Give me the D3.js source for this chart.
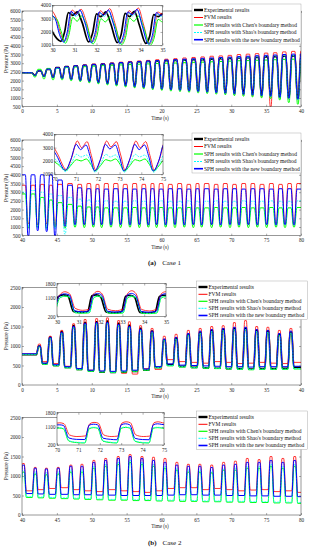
<!DOCTYPE html>
<html>
<head>
<meta charset="utf-8">
<script src="https://cdn.jsdelivr.net/npm/d3@7"></script>
<style>
  body { margin: 0; background: #fff; }
  svg { display: block; font-family: "Liberation Serif", "DejaVu Serif", serif; }
</style>
</head>
<body>
<svg id="chart" width="313" height="550"></svg>
<script>
// legend entries, same order in every panel
const seriesNames = ['Experimental results', 'FVM results', "SPH results with Chen's boundary method",
                     "SPH results with Shao's boundary method", 'SPH results with the new boundary method'];
const seriesColors = ['#000000', '#ff0000', '#00ff00', '#00ffff', '#0000ff'];

// ---- Case 1, 0-40 s : times of the sharp troughs, trough (lo) and crest (hi) after each
const c1aT = [1.85, 3.15, 4.45, 5.75, 7.05, 8.35, 9.65, 10.95, 12.25, 13.55, 14.85, 16.15, 17.45, 18.75, 20.05,
              21.35, 22.65, 23.95, 25.25, 26.55, 27.85, 29.15, 30.45, 31.75, 33.05, 34.35, 35.65, 36.95, 38.25, 39.55];
const c1aStart = [2450, 2450, 2450, 2450, 2450];
const c1aExpLo = [2300, 2250, 2200, 2150, 2080, 2020, 1960, 1900, 1840, 1780, 1720, 1670, 1620, 1570, 1530, 1500, 1470, 1440, 1410, 1390, 1360, 1340, 1300, 1260, 1220, 1180, 1140, 1100, 1050, 1000];
const c1aExpHi = [2550, 2650, 2750, 2800, 2850, 2880, 2920, 2950, 2980, 3020, 3050, 3080, 3100, 3120, 3150, 3160, 3180, 3200, 3210, 3230, 3260, 3280, 3300, 3320, 3340, 3360, 3380, 3400, 3420, 3440];
const c1aFvmLo = [2300, 2250, 2200, 2150, 2080, 2020, 1960, 1900, 1840, 1780, 1720, 1660, 1600, 1560, 1520, 1480, 1440, 1400, 1370, 1330, 1300, 1260, 1220, 1180, 1140, 1100, 500, 1000, 950, 900];
const c1aFvmHi = [2550, 2650, 2750, 2800, 2850, 2900, 2950, 2980, 3020, 3060, 3100, 3130, 3160, 3200, 3230, 3260, 3300, 3330, 3360, 3400, 3420, 3450, 3500, 3520, 3550, 3580, 3600, 3650, 3680, 3700];
const c1aChenLo = [2200, 2100, 2050, 2050, 2000, 1950, 1880, 1820, 1760, 1700, 1640, 1590, 1540, 1490, 1450, 1410, 1380, 1340, 1300, 1270, 1230, 1200, 1150, 1110, 1070, 1020, 980, 900, 750, 650];
const c1aChenHi = [2650, 2700, 2700, 2750, 2780, 2800, 2830, 2860, 2880, 2900, 2920, 2940, 2960, 2980, 3000, 3010, 3030, 3050, 3060, 3080, 3100, 3120, 3140, 3150, 3170, 3180, 3200, 3220, 3230, 3250];
const c1aShaoLo = [2280, 2230, 2180, 2120, 2060, 2000, 1940, 1880, 1820, 1760, 1700, 1650, 1600, 1550, 1510, 1470, 1440, 1400, 1370, 1340, 1300, 1270, 1230, 1200, 1160, 1120, 1080, 1020, 950, 880];
const c1aShaoHi = [2550, 2650, 2700, 2780, 2830, 2870, 2900, 2940, 2970, 3000, 3040, 3060, 3090, 3110, 3140, 3160, 3180, 3200, 3220, 3240, 3270, 3290, 3320, 3340, 3360, 3380, 3400, 3420, 3440, 3450];
const c1aNewLo = [2300, 2240, 2190, 2140, 2080, 2020, 1960, 1900, 1840, 1780, 1720, 1670, 1620, 1570, 1530, 1490, 1460, 1420, 1390, 1360, 1320, 1290, 1250, 1220, 1180, 1150, 1110, 1050, 1000, 950];
const c1aNewHi = [2560, 2660, 2740, 2800, 2850, 2890, 2930, 2960, 3000, 3040, 3070, 3100, 3130, 3150, 3180, 3200, 3230, 3250, 3280, 3300, 3330, 3350, 3380, 3400, 3430, 3450, 3470, 3500, 3520, 3550];

// ---- Case 1, 40-80 s (no experimental curve)
const c1bT = [40.91, 42.25, 43.54, 44.74, 46.16, 47.6, 48.93, 50.23, 51.42, 52.76, 54.14, 55.48, 56.82, 58.11, 59.3,
              60.6, 61.93, 63.27, 64.56, 65.76, 67.19, 68.48, 69.82, 71.11, 72.45, 73.74, 75.08, 76.42, 77.71, 79.0];
const c1bStart = [null, 3400, 2900, 3000, 4000];
const c1bFvmLo = [1200, 1150, 1200, 1100, 1200, 1180, 1200, 1180, 1200, 1180, 1200, 1180, 1200, 1180, 1200, 1180, 1200, 1180, 1200, 1180, 1200, 1180, 1200, 1180, 1200, 1180, 1200, 1180, 1200, 1180];
const c1bFvmHi = [3400, 3450, 3400, 3450, 3500, 3450, 3500, 3450, 3500, 3500, 3450, 3500, 3450, 3500, 3500, 3450, 3500, 3450, 3500, 3500, 3450, 3500, 3450, 3500, 3500, 3450, 3500, 3450, 3500, 3500];
const c1bChenLo = [950, 1000, 950, 1000, 950, 1000, 980, 1000, 980, 1000, 980, 1000, 980, 1000, 980, 1000, 980, 1000, 980, 1000, 980, 1000, 980, 1000, 980, 1000, 980, 1000, 980, 1000];
const c1bChenHi = [2900, 2700, 2550, 2400, 2300, 2200, 2150, 2150, 2100, 2100, 2100, 2120, 2100, 2100, 2120, 2100, 2100, 2120, 2100, 2100, 2120, 2100, 2100, 2120, 2100, 2100, 2120, 2100, 2100, 2120];
const c1bShaoLo = [1000, 950, 900, 900, 600, 1100, 1150, 1120, 1150, 1120, 1150, 1120, 1150, 1120, 1150, 1120, 1150, 1120, 1150, 1120, 1150, 1120, 1150, 1120, 1150, 1120, 1150, 1120, 1150, 1120];
const c1bShaoHi = [3100, 3000, 2900, 2800, 2700, 2600, 2550, 2500, 2500, 2480, 2480, 2500, 2480, 2480, 2500, 2480, 2480, 2500, 2480, 2480, 2500, 2480, 2480, 2500, 2480, 2480, 2500, 2480, 2480, 2500];
const c1bNewLo = [500, 800, 750, 500, 1050, 1150, 1150, 1130, 1150, 1130, 1150, 1130, 1150, 1130, 1150, 1130, 1150, 1130, 1150, 1130, 1150, 1130, 1150, 1130, 1150, 1130, 1150, 1130, 1150, 1130];
const c1bNewHi = [4000, 4000, 4000, 3700, 3400, 3250, 3200, 3200, 3180, 3200, 3200, 3180, 3200, 3200, 3180, 3200, 3200, 3180, 3200, 3200, 3180, 3200, 3200, 3180, 3200, 3200, 3180, 3200, 3200, 3180];

// ---- Case 2, 0-40 s : times of the pulses, pulse top (hi) and floor after each (lo)
const c2aT = [2.5, 4.05, 5.7, 7.4, 9.05, 10.7, 12.25, 13.85, 15.4, 17.0, 18.65, 20.4, 22.1, 23.85, 25.55, 27.2, 28.85, 30.45, 32.05, 33.65, 35.25, 36.9, 38.55];
const c2aStart = [780, 800, 780, 790, 800];
const c2aExpHi = [1000, 1230, 1370, 1520, 1600, 1620, 1640, 1580, 1530, 1450, 1380, 1150, 1200, 1300, 1350, 1400, 1430, 1450, 1450, 1400, 1380, 1300, 1350];
const c2aExpLo = [550, 500, 450, 400, 360, 330, 320, 330, 350, 380, 450, 520, 480, 450, 440, 430, 420, 420, 410, 420, 420, 430, 450];
const c2aFvmHi = [1050, 1250, 1400, 1570, 1680, 1700, 1720, 1650, 1620, 1520, 1450, 1250, 1300, 1400, 1450, 1500, 1520, 1600, 1650, 1500, 1480, 1400, 1450];
const c2aFvmLo = [600, 550, 480, 420, 380, 350, 330, 300, 280, 420, 400, 650, 600, 580, 560, 600, 580, 550, 560, 580, 560, 550, 580];
const c2aChenHi = [980, 1190, 1320, 1460, 1540, 1560, 1570, 1510, 1470, 1390, 1330, 1140, 1170, 1270, 1320, 1360, 1390, 1410, 1410, 1360, 1340, 1270, 1320];
const c2aChenLo = [530, 490, 440, 390, 350, 330, 320, 330, 350, 380, 440, 490, 460, 440, 430, 420, 410, 400, 390, 400, 400, 400, 410];
const c2aShaoHi = [980, 1200, 1330, 1470, 1550, 1570, 1580, 1520, 1480, 1400, 1340, 1150, 1180, 1280, 1330, 1370, 1400, 1420, 1420, 1370, 1350, 1280, 1330];
const c2aShaoLo = [540, 500, 450, 400, 360, 340, 330, 340, 360, 390, 450, 500, 470, 450, 440, 430, 420, 410, 400, 410, 410, 410, 420];
const c2aNewHi = [1000, 1220, 1350, 1500, 1580, 1600, 1600, 1550, 1500, 1430, 1380, 1180, 1220, 1320, 1380, 1420, 1450, 1480, 1480, 1420, 1400, 1320, 1380];
const c2aNewLo = [560, 520, 470, 420, 380, 360, 350, 360, 380, 410, 470, 540, 510, 500, 490, 480, 470, 470, 460, 470, 470, 470, 480];

// ---- Case 2, 40-80 s (no experimental curve)
const c2bT = [40.2, 41.9, 43.5, 45.2, 47.0, 48.6, 50.3, 52.0, 53.8, 55.5, 57.2, 58.85, 60.5, 62.2, 63.85, 65.5, 67.2, 68.9, 70.6, 72.3, 74.0, 75.7, 77.4, 79.1];
const c2bStart = [null, 700, 450, 470, 550];
const c2bFvmHi = [1320, 1220, 1200, 1220, 1280, 1300, 1400, 1450, 1500, 1550, 1500, 1480, 1450, 1350, 1300, 1300, 1280, 1350, 1380, 1450, 1420, 1500, 1450, 1500];
const c2bFvmLo = [620, 650, 680, 700, 650, 620, 600, 650, 620, 600, 580, 620, 680, 700, 700, 650, 680, 650, 620, 640, 650, 600, 620, 580];
const c2bChenHi = [1100, 1050, 1030, 1050, 1100, 1100, 1200, 1250, 1300, 1350, 1300, 1250, 1200, 1150, 1100, 1100, 1080, 1150, 1150, 1200, 1200, 1250, 1200, 1250];
const c2bChenLo = [450, 440, 430, 420, 410, 400, 390, 380, 380, 370, 370, 360, 360, 350, 350, 340, 340, 330, 330, 320, 320, 310, 310, 300];
const c2bShaoHi = [1150, 1100, 1080, 1100, 1150, 1150, 1250, 1300, 1350, 1400, 1350, 1300, 1250, 1180, 1150, 1150, 1120, 1180, 1200, 1250, 1250, 1300, 1250, 1300];
const c2bShaoLo = [470, 460, 450, 440, 430, 420, 410, 400, 400, 390, 390, 380, 380, 380, 370, 360, 360, 350, 350, 340, 340, 330, 330, 320];
const c2bNewHi = [1280, 1200, 1180, 1200, 1250, 1250, 1350, 1400, 1450, 1500, 1450, 1400, 1350, 1280, 1250, 1250, 1220, 1280, 1300, 1350, 1350, 1400, 1350, 1400];
const c2bNewLo = [550, 540, 530, 530, 520, 520, 510, 510, 500, 500, 500, 500, 510, 520, 520, 510, 510, 500, 500, 490, 490, 480, 480, 470];

// ---- zoomed insets: sample times plus a time lag per series
const in1T = [29.8, 30.0, 30.2, 30.38, 30.55, 30.72, 30.92, 31.12, 31.35, 31.64, 31.82, 32.0, 32.2, 32.42, 32.65, 32.94, 33.12, 33.3, 33.5, 33.72, 33.95, 34.24, 34.42, 34.6, 34.8, 35.0];
const in1Lag = [0, 0.18, 0.2, 0.15, 0.12];
const in1Exp = [2700, 2000, 1500, 1300, 2000, 3450, 3250, 3500, 2700, 1250, 1900, 3350, 3150, 3500, 2600, 1200, 1800, 3400, 3150, 3550, 2500, 1150, 1700, 3300, 3150, 3400];
const in1Fvm = [3600, 3000, 1800, 1300, 2100, 3650, 3350, 3700, 2800, 1250, 2000, 3600, 3300, 3750, 2700, 1150, 1900, 3600, 3350, 3800, 2600, 1100, 1800, 3500, 3350, 3600];
const in1Chen = [3150, 2950, 2000, 1150, 1800, 3100, 2800, 3200, 2500, 1100, 1700, 3000, 2750, 3150, 2400, 1050, 1600, 3050, 2800, 3200, 2300, 1000, 1550, 2950, 2750, 3100];
const in1Shao = [3250, 2900, 1750, 1200, 1950, 3450, 3150, 3550, 2650, 1150, 1900, 3400, 3150, 3550, 2550, 1100, 1800, 3400, 3200, 3600, 2450, 1050, 1700, 3350, 3150, 3450];
const in1New = [3300, 3000, 1800, 1250, 2000, 3550, 3250, 3650, 2700, 1200, 1950, 3500, 3250, 3650, 2600, 1150, 1850, 3500, 3300, 3700, 2500, 1100, 1750, 3450, 3250, 3550];

const in2T = [69.8, 70.1, 70.5, 70.75, 71.0, 71.2, 71.45, 71.65, 71.85, 72.1, 72.35, 72.55, 72.8, 73.0, 73.2, 73.45, 73.7, 73.9, 74.15, 74.35, 74.55, 74.8, 75.05, 75.25];
const in2Lag = [0, 0.05, 0.02, 0.02, 0];
const in2Fvm = [3400, 2500, 1350, 2300, 3500, 3000, 3450, 2400, 1300, 2250, 3500, 3050, 3450, 2450, 1300, 2250, 3500, 3000, 3450, 2400, 1300, 2200, 3500, 3050];
const in2Chen = [2100, 1800, 1300, 1700, 2100, 2000, 2150, 1750, 1250, 1650, 2100, 2000, 2150, 1750, 1250, 1650, 2100, 2000, 2150, 1750, 1250, 1650, 2100, 2000];
const in2Shao = [2450, 2000, 1200, 1800, 2500, 2300, 2450, 1900, 1150, 1750, 2500, 2300, 2450, 1900, 1150, 1750, 2500, 2300, 2450, 1900, 1150, 1750, 2500, 2300];
const in2New = [3200, 2400, 1300, 2100, 3250, 2850, 3200, 2300, 1250, 2050, 3250, 2900, 3200, 2300, 1250, 2050, 3250, 2850, 3200, 2300, 1250, 2000, 3250, 2900];

const in3T = [29.85, 30.05, 30.28, 30.5, 30.75, 31.1, 31.4, 31.6, 31.8, 32.0, 32.25, 32.6, 32.95, 33.15, 33.35, 33.55, 33.8, 34.15, 34.5, 34.7, 34.9, 35.1];
const in3Lag = [0, 0.08, 0.08, 0.08, 0.06];
const in3Exp = [450, 1150, 1250, 1200, 450, 400, 430, 1200, 1250, 1150, 420, 380, 420, 1180, 1230, 1150, 400, 370, 430, 1170, 1230, 1200];
const in3Fvm = [600, 1250, 1400, 1300, 600, 500, 550, 1300, 1420, 1280, 550, 480, 560, 1300, 1450, 1300, 540, 470, 560, 1300, 1400, 1350];
const in3Chen = [400, 1100, 1180, 1120, 380, 360, 380, 1100, 1180, 1100, 370, 350, 370, 1100, 1170, 1100, 360, 340, 370, 1100, 1160, 1120];
const in3Shao = [420, 1120, 1200, 1150, 400, 380, 400, 1130, 1200, 1130, 390, 370, 390, 1120, 1200, 1120, 380, 360, 390, 1120, 1180, 1150];
const in3New = [500, 1200, 1300, 1250, 480, 430, 470, 1230, 1320, 1230, 460, 420, 450, 1230, 1320, 1220, 450, 410, 460, 1220, 1300, 1250];

const in4T = [69.85, 70.1, 70.3, 70.55, 70.9, 71.3, 71.5, 71.7, 71.9, 72.15, 72.5, 72.8, 73.0, 73.2, 73.4, 73.65, 74.0, 74.3, 74.5, 74.7, 74.9, 75.15];
const in4Lag = [0, 0.03, 0, 0, 0];
const in4Fvm = [1250, 1300, 1250, 700, 620, 650, 1250, 1320, 1280, 700, 620, 640, 1280, 1350, 1300, 700, 620, 640, 1300, 1350, 1300, 1250];
const in4Chen = [1000, 1040, 1000, 400, 320, 300, 1000, 1060, 1030, 390, 320, 300, 1030, 1070, 1040, 380, 310, 300, 1030, 1060, 1040, 1000];
const in4Shao = [1030, 1060, 1030, 420, 340, 320, 1030, 1080, 1050, 410, 340, 320, 1050, 1090, 1060, 400, 330, 310, 1050, 1080, 1060, 1030];
const in4New = [1180, 1200, 1170, 550, 480, 470, 1180, 1230, 1200, 540, 480, 460, 1200, 1250, 1200, 530, 470, 460, 1200, 1250, 1220, 1180];

// tick values
const yTicksCase1 = [500, 1000, 1500, 2000, 2500, 3000, 3500, 4000, 4500, 5000, 5500, 6000];
const yTicksCase2 = [0, 500, 1000, 1500, 2000, 2500];
const insetTicksCase1 = [1000, 2000, 3000, 4000];
const insetTicksCase2 = [200, 1100, 1800];

const lineWidths = [1.7, 0.8, 1, 0.8, 1];
const lineDash = [null, null, null, '2,1', null];

const svg = d3.select('#chart');
svg.append('rect').attr('width', 313).attr('height', 550).attr('fill', '#fff');

// builds the trace from event times: value ev[i] held around T[i], then between[i] until the next event
function tracePoints(T, ev, between, start, t0, tEnd, r1, r2) {
  let pts = [[t0, start]];
  T.forEach((t, i) => {
    let prev = i === 0 ? start : between[i - 1];
    pts.push([t - r2, prev], [t - r1, ev[i]], [t + r1, ev[i]], [t + r2, between[i]]);
  });
  pts.push([tEnd, between[between.length - 1]]);
  return pts.filter((p, i) => i === 0 || p[0] > t0);
}

function lagPoints(T, vals, lag) {
  return T.map((t, i) => [t + lag, vals[i]]);
}

let clipCount = 0;

function drawLines(g, x, y, traces) {
  clipCount++;
  let id = 'clip' + clipCount;
  g.append('clipPath').attr('id', id)
    .append('rect')
    .attr('x', x.range()[0]).attr('y', y.range()[1])
    .attr('width', x.range()[1] - x.range()[0])
    .attr('height', y.range()[0] - y.range()[1]);
  let line = d3.line().x(d => x(d[0])).y(d => y(d[1])).curve(d3.curveMonotoneX);
  let lg = g.append('g').attr('clip-path', 'url(#' + id + ')');
  traces.forEach(tr => {
    if (!tr) return;
    lg.append('path')
      .attr('d', line(tr.pts))
      .attr('fill', 'none')
      .attr('stroke', seriesColors[tr.s])
      .attr('stroke-width', tr.w || lineWidths[tr.s])
      .attr('stroke-dasharray', lineDash[tr.s])
      .attr('stroke-linejoin', 'round');
  });
}

function drawAxes(g, x, y, xTicks, yTicks, xPad) {
  let styleAxis = sel => {
    sel.attr('font-family', null).attr('font-size', 5.2);
    sel.selectAll('.domain').remove();
    sel.selectAll('line').attr('stroke', '#333').attr('stroke-width', 0.4);
    sel.selectAll('text').attr('fill', '#222');
  };
  g.append('g').attr('transform', 'translate(0,' + y.range()[0] + ')')
    .call(d3.axisBottom(x).tickValues(xTicks).tickSize(-2).tickPadding(xPad).tickFormat(d3.format('d')))
    .call(styleAxis);
  g.append('g').attr('transform', 'translate(' + x.range()[0] + ',0)')
    .call(d3.axisLeft(y).tickValues(yTicks).tickSize(-2).tickPadding(1.5).tickFormat(d3.format('d')))
    .call(styleAxis);
  g.append('g').attr('transform', 'translate(0,' + y.range()[1] + ')')
    .call(d3.axisTop(x).tickValues(xTicks).tickSize(-2).tickFormat(''))
    .call(styleAxis);
  g.append('g').attr('transform', 'translate(' + x.range()[1] + ',0)')
    .call(d3.axisRight(y).tickValues(yTicks).tickSize(-2).tickFormat(''))
    .call(styleAxis);
  g.append('rect')
    .attr('x', x.range()[0]).attr('y', y.range()[1])
    .attr('width', x.range()[1] - x.range()[0]).attr('height', y.range()[0] - y.range()[1])
    .attr('fill', 'none').attr('stroke', '#333').attr('stroke-width', 0.5);
}

function drawLegend(g, L) {
  g.append('rect').attr('x', L.x).attr('y', L.y).attr('width', L.w).attr('height', L.h)
    .attr('fill', '#fff').attr('stroke', '#999').attr('stroke-width', 0.4);
  seriesNames.forEach((name, i) => {
    let yy = L.rows[i];
    g.append('line').attr('x1', L.x + 2).attr('x2', L.x + 11).attr('y1', yy).attr('y2', yy)
      .attr('stroke', seriesColors[i])
      .attr('stroke-width', [2.4, 1, 1.2, 1, 1.6][i])
      .attr('stroke-dasharray', i === 3 ? '2,1' : null);
    g.append('text').attr('x', L.x + 12).attr('y', yy).attr('dy', '0.35em')
      .attr('font-size', 5.5).attr('fill', '#111').text(name);
  });
}

function drawPanel(P) {
  let g = svg.append('g');
  let x = d3.scaleLinear().domain(P.xDom).range([22, 301]);
  let y = d3.scaleLinear().domain(P.yDom).range([P.bottom, P.top]);
  drawLines(g, x, y, P.traces);
  drawAxes(g, x, y, d3.range(P.xDom[0], P.xDom[1] + 1, 5), P.yTicks, 2.9);

  g.append('text')
    .attr('transform', 'translate(6,' + (P.top + P.bottom) / 2 + ') rotate(-90)')
    .attr('text-anchor', 'middle').attr('dy', '0.35em')
    .attr('font-size', 5.3).attr('fill', '#222').text('Pressure (Pa)');
  g.append('text')
    .attr('x', 160).attr('y', P.bottom + 11.2).attr('dy', '0.35em')
    .attr('text-anchor', 'middle').attr('font-size', 5.2).attr('fill', '#222').text('Time (s)');

  // inset
  let I = P.inset;
  let xi = d3.scaleLinear().domain(I.xDom).range([I.left, I.right]);
  let yi = d3.scaleLinear().domain(I.yDom).range([I.bottom, I.top]);
  g.append('rect').attr('x', I.left).attr('y', I.top)
    .attr('width', I.right - I.left).attr('height', I.bottom - I.top).attr('fill', '#fff');
  drawLines(g, xi, yi, I.traces);
  drawAxes(g, xi, yi, d3.range(I.xDom[0], I.xDom[1] + 1, 1), I.yTicks, 3.5);

  drawLegend(g, P.legend);
}

// trace tables built from the named arrays
function caseTraces(T, ev, between, start, t0, tEnd, r1, r2) {
  return ev.map((e, s) => e ? { s: s, pts: tracePoints(T, e, between[s], start[s], t0, tEnd, r1, r2) } : null);
}
function insetTraces(T, vals, lag) {
  return vals.map((v, s) => v ? { s: s, pts: lagPoints(T, v, lag[s]) } : null);
}

const legendTop = { x: 192, y: 4, w: 109, h: 40, rows: [10, 17.5, 25, 32.5, 39.7] };
const legendBottom = { x: 196.5, y: 281, w: 111, h: 38.5, rows: [287, 294.3, 301.3, 308.3, 315.5] };

drawPanel({
  xDom: [0, 40], yDom: [500, 6000], top: 11, bottom: 106.7, yTicks: yTicksCase1,
  traces: caseTraces(c1aT, [c1aExpLo, c1aFvmLo, c1aChenLo, c1aShaoLo, c1aNewLo],
                     [c1aExpHi, c1aFvmHi, c1aChenHi, c1aShaoHi, c1aNewHi], c1aStart, 0, 40, 0.06, 0.42),
  inset: { xDom: [30, 35], yDom: [1000, 4000], left: 52.5, right: 162.5, top: 5.3, bottom: 45.3, yTicks: insetTicksCase1,
           traces: insetTraces(in1T, [in1Exp, in1Fvm, in1Chen, in1Shao, in1New], in1Lag) },
  legend: legendTop
});

drawPanel({
  xDom: [40, 80], yDom: [500, 6000], top: 140, bottom: 235.7, yTicks: yTicksCase1,
  traces: caseTraces(c1bT, [null, c1bFvmLo, c1bChenLo, c1bShaoLo, c1bNewLo],
                     [null, c1bFvmHi, c1bChenHi, c1bShaoHi, c1bNewHi], c1bStart, 40, 80, 0.06, 0.42),
  inset: { xDom: [70, 75], yDom: [1000, 4000], left: 54.5, right: 163, top: 134.3, bottom: 174.3, yTicks: insetTicksCase1,
           traces: insetTraces(in2T, [null, in2Fvm, in2Chen, in2Shao, in2New], in2Lag) },
  legend: Object.assign({}, legendTop, { y: 133, rows: legendTop.rows.map(r => r + 129) })
});

drawPanel({
  xDom: [0, 40], yDom: [0, 2500], top: 287.5, bottom: 385, yTicks: yTicksCase2,
  traces: caseTraces(c2aT, [c2aExpHi, c2aFvmHi, c2aChenHi, c2aShaoHi, c2aNewHi],
                     [c2aExpLo, c2aFvmLo, c2aChenLo, c2aShaoLo, c2aNewLo], c2aStart, 0, 40, 0.12, 0.42),
  inset: { xDom: [30, 35], yDom: [200, 1800], left: 57, right: 166, top: 283.5, bottom: 316.5, yTicks: insetTicksCase2,
           traces: insetTraces(in3T, [in3Exp, in3Fvm, in3Chen, in3Shao, in3New], in3Lag) },
  legend: legendBottom
});

drawPanel({
  xDom: [40, 80], yDom: [0, 2500], top: 417.5, bottom: 515, yTicks: yTicksCase2,
  traces: caseTraces(c2bT, [null, c2bFvmHi, c2bChenHi, c2bShaoHi, c2bNewHi],
                     [null, c2bFvmLo, c2bChenLo, c2bShaoLo, c2bNewLo], c2bStart, 39.5, 80, 0.12, 0.42),
  inset: { xDom: [70, 75], yDom: [200, 1800], left: 57, right: 164, top: 412.7, bottom: 445, yTicks: insetTicksCase2,
           traces: insetTraces(in4T, [null, in4Fvm, in4Chen, in4Shao, in4New], in4Lag) },
  legend: Object.assign({}, legendBottom, { y: 411, rows: legendBottom.rows.map(r => r + 130) })
});

// captions
[['(a)', 'Case 1', 262.7], ['(b)', 'Case 2', 542.7]].forEach(c => {
  let t = svg.append('text').attr('x', 148).attr('y', c[2]).attr('dy', '0.35em')
    .attr('font-size', 7).attr('fill', '#111');
  t.append('tspan').attr('font-weight', 'bold').text(c[0]);
  t.append('tspan').attr('dx', 6).text(c[1]);
});
</script>
</body>
</html>
